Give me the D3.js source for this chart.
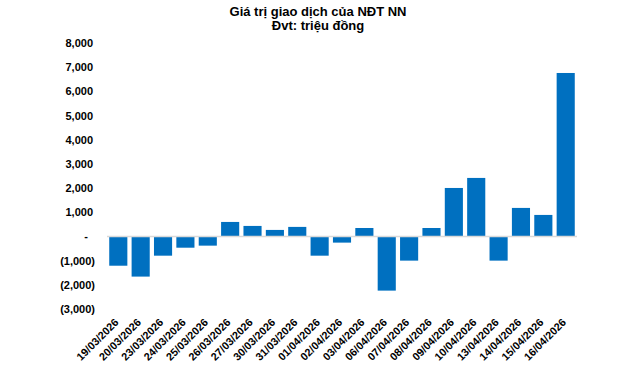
<!DOCTYPE html>
<html><head><meta charset="utf-8">
<script src="https://cdn.jsdelivr.net/npm/d3@7"></script>
<style>body{margin:0;background:#fff}svg{display:block}</style>
</head><body>
<svg id="c" width="640" height="368"></svg>
<script>
const titleLines = ["Giá trị giao dịch của NĐT NN", "Đvt: triệu đồng"];
const dates = ["19/03/2026","20/03/2026","23/03/2026","24/03/2026","25/03/2026","26/03/2026","27/03/2026","30/03/2026","31/03/2026","01/04/2026","02/04/2026","03/04/2026","06/04/2026","07/04/2026","08/04/2026","09/04/2026","10/04/2026","13/04/2026","14/04/2026","15/04/2026","16/04/2026"];
const values = [-1210,-1660,-795,-465,-380,600,435,270,395,-795,-255,350,-2240,-1000,350,2005,2420,-1000,1180,890,6760];
const yTicks = [-3000,-2000,-1000,0,1000,2000,3000,4000,5000,6000,7000,8000];

const svg = d3.select("#c");
const font = "'Liberation Sans', Arial, sans-serif";
const x = d3.scaleBand().domain(dates).range([107, 577]).paddingInner(0.19).paddingOuter(0.1);
const y = d3.scaleLinear().domain([-3000, 8000]).range([309, 43]);

// title
svg.append("text").attr("text-anchor","middle")
  .attr("font-family", font).attr("font-weight","bold").attr("font-size", 13).attr("fill","#000")
  .selectAll("tspan").data(titleLines).join("tspan")
  .attr("x", 318).attr("y", (d,i)=> i ? 30 : 15.5).text(d=>d);

// y axis
const fmt = v => v === 0 ? "-" : (v < 0 ? "(" + d3.format(",")(-v) + ")" : d3.format(",")(v));
const yAxis = d3.axisLeft(y).tickValues(yTicks).tickSize(0).tickPadding(0).tickFormat(fmt);
const gy = svg.append("g").attr("transform","translate(95,0)").call(yAxis);
gy.select(".domain").remove();
gy.selectAll("text").attr("font-family", font).attr("font-weight","bold").attr("font-size", 11).attr("fill","#000")
  .attr("dx", d => d > 0 ? -2 : (d === 0 ? -7 : 0));

// bars
svg.append("g").selectAll("rect").data(values).join("rect")
  .attr("x", (d,i)=> x(dates[i]))
  .attr("width", x.bandwidth())
  .attr("y", d => y(Math.max(0,d)))
  .attr("height", d => Math.abs(y(d) - y(0)))
  .attr("fill", "#0070C0");

// zero line
svg.append("line").attr("x1", 107).attr("x2", 577).attr("y1", y(0)).attr("y2", y(0))
  .attr("stroke", "#d9d9d9").attr("stroke-width", 1.5);

// x axis labels
const xAxis = d3.axisBottom(x).tickSize(0).tickPadding(0);
const gx = svg.append("g").attr("transform","translate(0,313)").call(xAxis);
gx.select(".domain").remove();
gx.selectAll("text").attr("font-family", font).attr("font-weight","bold").attr("font-size", 10.8).attr("fill","#000")
  .attr("text-anchor","end").attr("y", 0).attr("dy", 0)
  .attr("transform","translate(1,10) rotate(-45)");
</script>
</body></html>
